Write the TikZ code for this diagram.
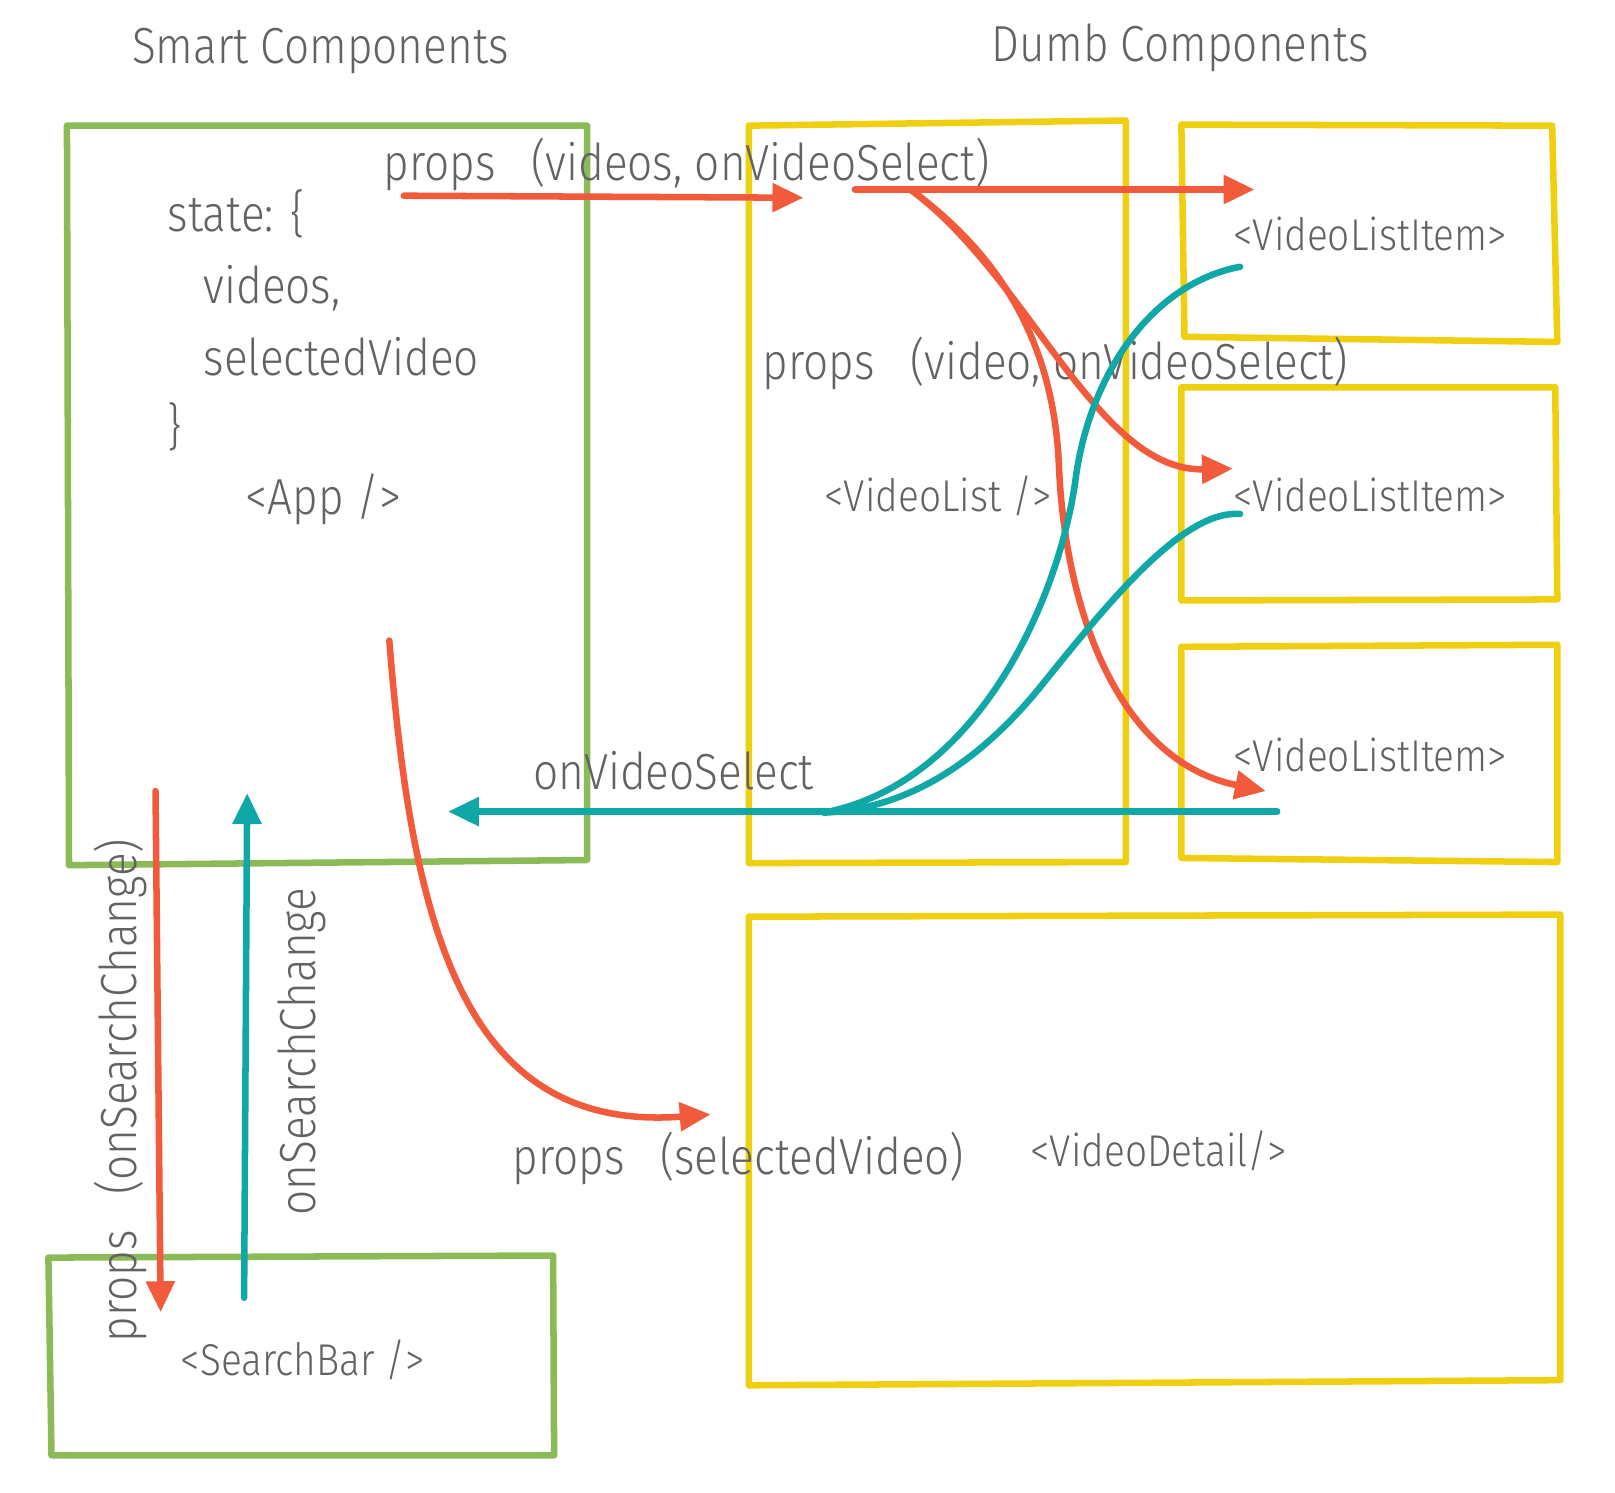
\documentclass[tikz,border=0pt]{standalone}
\usepackage{fontspec}
\setmainfont{Fira Sans Light}[FakeStretch=0.87]
\usepackage{tikz}
\usetikzlibrary{arrows.meta}
\definecolor{RCGreen}{HTML}{8BBB56}
\definecolor{RCYellow}{HTML}{EFCF10}
\definecolor{RCRed}{HTML}{F15B3B}
\definecolor{RCTeal}{HTML}{10A7A7}
\definecolor{RCText}{HTML}{626262}
\newcommand{\gap}{\hspace{0.7em}}
\tikzset{
  smartbox/.style={RCGreen,line width=1.8pt,line join=round,line cap=round},
  dumbbox/.style={RCYellow,line width=1.8pt,line join=round,line cap=round},
  propflow/.style={RCRed,line width=1.8pt,line cap=round,-{Triangle[length=0.3cm,width=0.27cm]}},
  callflow/.style={RCTeal,line width=1.8pt,line cap=round,-{Triangle[length=0.3cm,width=0.27cm]}},
  callline/.style={RCTeal,line width=1.8pt,line cap=round},
  hand/.style={text=RCText,inner sep=0pt,font=\fontsize{14}{16}\selectfont},
  tag/.style={text=RCText,inner sep=0pt,font=\fontsize{12.3}{14}\selectfont}
}

\begin{document}
\begin{tikzpicture}[x=0.01cm,y=-0.01cm]
\path[use as bounding box] (0,0) rectangle (1568,1449);
\draw[smartbox] (65,122) -- (570,122) -- (570,835) -- (67,840) -- cycle;
\draw[smartbox] (47,1221) -- (537,1219) -- (538,1413) -- (50,1413) -- cycle;
\draw[dumbbox] (727,122) -- (1093,117) -- (1093,837) -- (727,838) -- cycle;
\draw[dumbbox] (1147,121) -- (1507,122) -- (1512,332) -- (1150,327) -- cycle;
\draw[dumbbox] (1147,376) -- (1510,376) -- (1512,582) -- (1147,583) -- cycle;
\draw[dumbbox] (1147,628) -- (1512,626) -- (1512,837) -- (1147,833) -- cycle;
\draw[dumbbox] (727,890) -- (1515,888) -- (1515,1340) -- (727,1345) -- cycle;
\node[hand,anchor=base] (smart) at (311,62) {Smart Components};
\node[hand,anchor=base] (dumb) at (1146,60) {Dumb Components};
\node[hand,anchor=base west] (state) at (162,225) {state: \{};
\node[hand,anchor=base west] (videos) at (197,295) {videos,};
\node[hand,anchor=base west] (selected) at (197,365) {selectedVideo};
\node[hand,anchor=base west] (close) at (162,432) {\}};
\node[hand,anchor=base west] (app) at (238,500) {<App />};
\node[hand,anchor=base west] (propsvideos) at (372,175) {props\gap(videos, onVideoSelect)};
\node[hand,anchor=base west] (propsvideo) at (740,368) {props\gap(video, onVideoSelect)};
\node[tag,anchor=base west] (videolist) at (800,497) {<VideoList />};
\node[tag,anchor=base west] (item1) at (1197,243) {<VideoListItem>};
\node[tag,anchor=base west] (item2) at (1197,497) {<VideoListItem>};
\node[tag,anchor=base west] (item3) at (1197,749) {<VideoListItem>};
\node[hand,anchor=base west] (select) at (517,767) {onVideoSelect};
\node[hand,anchor=base west] (propsselected) at (497,1140) {props\gap(selectedVideo)};
\node[tag,anchor=base west] (detail) at (1000,1133) {<VideoDetail/>};
\node[tag,anchor=base west] (searchbar) at (175,1335) {<SearchBar />};
\node[hand,anchor=base,rotate=90] (propssearch) at (133,1059) {props\gap(onSearchChange)};
\node[hand,anchor=base,rotate=90] (onsearch) at (306,1021) {onSearchChange};
\coordinate (appout) at (392,190);
\coordinate (listin) at (780,192);
\coordinate (listout) at (830,184);
\coordinate (listfork) at (884,184);
\coordinate (item1in) at (1218,184);
\coordinate (item2in) at (1197,455);
\coordinate (item3in) at (1229,768);
\coordinate (item1out) at (1204,259);
\coordinate (item2out) at (1204,499);
\coordinate (item3out) at (1240,788);
\coordinate (selectin) at (435,788);
\coordinate (selectjoin) at (800,789);
\coordinate (appdetail) at (378,622);
\coordinate (detailin) at (690,1082);
\coordinate (searchout) at (151,768);
\coordinate (searchin) at (156,1274);
\coordinate (changeout) at (237,1260);
\coordinate (changein) at (240,770);
\draw[propflow] (appout) -- (listin);
\draw[propflow] (listout) -- (item1in);
\draw[propflow] (listfork) .. controls (1000,270) and (1065,458) .. (item2in);
\draw[propflow] (listfork) .. controls (960,240) and (1022,320) .. (1028,450) .. controls (1034,600) and (1090,740) .. (item3in);
\draw[propflow] (appdetail) .. controls (400,900) and (450,1100) .. (detailin);
\draw[propflow] (searchout) -- (searchin);
\draw[callflow] (changeout) -- (changein);
\draw[callflow] (item3out) -- (selectin);
\draw[callline] (item1out) .. controls (1120,275) and (1060,360) .. (1045,460) .. controls (1030,580) and (950,760) .. (selectjoin);
\draw[callline] (item2out) .. controls (1150,495) and (1080,580) .. (1014,662) .. controls (960,730) and (890,785) .. (selectjoin);
\end{tikzpicture}
\end{document}
